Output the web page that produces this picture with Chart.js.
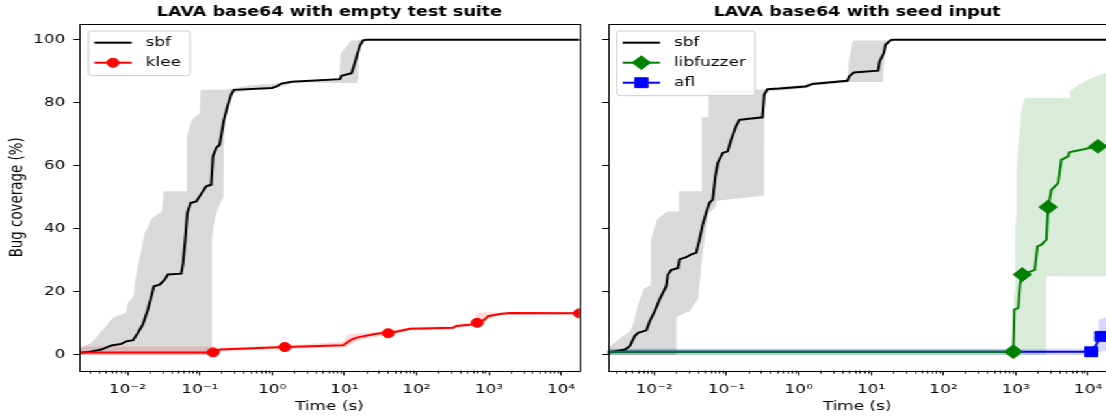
<!DOCTYPE html>
<html>
<head>
<meta charset="utf-8">
<script src="https://cdn.jsdelivr.net/npm/chart.js@4.4.1/dist/chart.umd.min.js"></script>
<style>
  html, body { margin: 0; padding: 0; background: #fff; overflow: hidden; }
  /* the reference figure is stretched sideways, so the whole stage is too */
  #stage { position: absolute; left: 0; top: 0; width: 851px; height: 416px; transform: scaleX(1.3); transform-origin: 0 0; }
  #left { position: absolute; left: 0; top: 0; }
  #right { position: absolute; left: 458px; top: 0; }
</style>
</head>
<body>
<div id="stage">
  <canvas id="left" width="458" height="416"></canvas>
  <canvas id="right" width="400" height="416"></canvas>
</div>
<script>
// ---- axes ----
const xTickValues = [1e-2, 1e-1, 1, 10, 100, 1000, 10000];
const yTickValues = [0, 20, 40, 60, 80, 100];
const xMinEmpty = 0.00215;
const xMinSeed = 0.00228;
const xMax = 18000;

// ---- left panel: empty test suite ----
const emptySbfT = [0.00215, 0.00283, 0.00433, 0.00596, 0.00818, 0.0096, 0.0119, 0.0139, 0.0163, 0.0191, 0.0232, 0.0278, 0.0326, 0.0362, 0.0553, 0.0583, 0.0628, 0.067, 0.0745, 0.0891, 0.1045, 0.1227, 0.1438, 0.1517, 0.1686, 0.188, 0.2155, 0.245, 0.272, 0.296, 1.0, 1.153, 1.35, 1.86, 8.67, 9.14, 12.6, 13.5, 14.8, 16.4, 18.2, 20.3, 18000];
const emptySbfV = [0.7, 0.9, 1.7, 3.0, 3.5, 4.3, 4.7, 7.0, 9.7, 14.4, 21.8, 22.3, 23.9, 25.5, 25.8, 28.7, 36.6, 45.0, 48.2, 48.7, 51.1, 53.5, 54.0, 63.0, 65.7, 66.7, 74.6, 79.4, 82.6, 84.1, 84.7, 85.2, 86.1, 86.7, 87.5, 88.6, 89.4, 91.5, 94.7, 98.1, 99.8, 100, 100];
const emptySbfBandT = [0.00215, 0.00322, 0.00626, 0.0095, 0.0101, 0.0121, 0.013, 0.0145, 0.0173, 0.0195, 0.0207, 0.0297, 0.0316, 0.0649, 0.066, 0.0777, 0.0994, 0.103, 0.147, 0.147, 0.155, 0.17, 0.2, 0.212, 0.214, 0.228, 0.256, 0.28, 0.5, 1.0, 1.5, 2.0, 8.5, 8.85, 12.4, 15.0, 15.5, 16.1, 18.2, 20.3, 18000];
const emptySbfBandLo = [0, 0, 0, 0, 0, 0, 0, 0, 0, 0, 0, 0, 0, 0, 0, 0, 0, 0, 0, 36, 41, 45, 49, 50, 66, 76, 80, 83, 84.0, 84.5, 85.3, 86.4, 86.3, 86.3, 86.3, 86.3, 88, 97, 99.7, 100, 100];
const emptySbfBandHi = [2.0, 4.0, 11.8, 13.4, 16.5, 18.6, 25.0, 30.3, 38.7, 40.8, 42.9, 45.6, 51.9, 51.9, 69.3, 74.6, 76.7, 84.1, 84.1, 84.1, 84.1, 84.1, 84.1, 84.1, 84.1, 84.2, 84.3, 84.5, 85.6, 86.0, 86.6, 86.9, 87.8, 95.6, 99.8, 99.8, 100, 100, 100, 100, 100];

const emptyKleeT = [0.00215, 0.153, 0.19, 1.5, 9.6, 12.6, 14.8, 22.5, 31, 40.4, 58.6, 80.6, 320, 356, 545, 687, 850, 975, 1416, 1946, 18000];
const emptyKleeV = [0.8, 0.8, 1.7, 2.5, 3.1, 4.9, 5.5, 6.3, 6.9, 6.9, 7.6, 8.3, 8.6, 9.2, 9.6, 10.2, 11.0, 12.3, 13.0, 13.3, 13.2];
const emptyKleeMarks = [0.153, 1.5, 40.4, 687, 18000];
const emptyKleeBandT = [0.00215, 0.153, 0.16, 0.19, 1.5, 9.6, 11.0, 15, 22.5, 40.4, 58.6, 80.6, 320, 356, 650, 680, 850, 975, 1416, 18000];
const emptyKleeBandLo = [0, 0, 0.3, 1.1, 1.9, 2.4, 2.7, 4.3, 5.5, 6.3, 7.0, 7.8, 8.1, 8.7, 9.0, 9.0, 9.5, 11.5, 12.6, 12.9];
const emptyKleeBandHi = [2.7, 2.7, 2.0, 2.3, 3.1, 4.2, 6.5, 6.8, 7.2, 7.6, 8.2, 8.8, 9.1, 9.8, 10.5, 13.4, 13.5, 13.5, 13.5, 13.5];

// ---- right panel: seed input ----
const seedSbfT = [0.00228, 0.00393, 0.0046, 0.00539, 0.00598, 0.00782, 0.00868, 0.0102, 0.0119, 0.0132, 0.0147, 0.0155, 0.0172, 0.0213, 0.0224, 0.0278, 0.0325, 0.0381, 0.0424, 0.047, 0.0523, 0.0581, 0.0646, 0.0703, 0.0757, 0.0887, 0.104, 0.1157, 0.1355, 0.1506, 0.167, 0.315, 0.333, 0.37, 0.536, 1.25, 1.54, 4.67, 5.0, 5.78, 12.5, 13.1, 15.0, 15.8, 18.5, 20, 18000];
const seedSbfV = [0.7, 1.7, 2.8, 6.0, 7.0, 7.8, 10.7, 13.9, 17.6, 19.7, 21.8, 25.5, 26.9, 27.6, 30.3, 31.0, 31.9, 32.4, 36.6, 41.4, 45.1, 48.2, 49.3, 56.7, 60.9, 64.1, 64.6, 68.3, 72.5, 74.6, 74.7, 75.4, 82.6, 84.3, 84.5, 85.2, 86.0, 87.0, 88.4, 89.6, 90.2, 93.1, 95.8, 98.4, 99.8, 100, 100];
const seedSbfBandT = [0.00228, 0.0046, 0.0051, 0.006, 0.0071, 0.0088, 0.009, 0.0109, 0.0149, 0.0204, 0.0204, 0.022, 0.022, 0.0307, 0.0409, 0.0434, 0.0456, 0.0456, 0.0562, 0.0566, 0.0566, 0.0703, 0.074, 0.3165, 0.33, 0.335, 0.37, 0.536, 1.25, 1.54, 4.67, 4.9, 5.6, 14.5, 15.8, 18.5, 20, 18000];
const seedSbfBandLo = [0, 0, 0, 0, 0, 0, 0, 0, 0, 0, 11.7, 12.5, 12.5, 13.8, 18, 24.4, 30, 30, 44.6, 44.8, 44.8, 46.8, 48.9, 50.5, 50.5, 82.5, 83.8, 83.8, 84.6, 85.5, 86.4, 86.6, 86.6, 86.6, 98.4, 99.8, 100, 100];
const seedSbfBandHi = [2.3, 7.5, 9.6, 16, 21, 22, 36.5, 42.9, 45.5, 45.5, 45.5, 45.5, 51.9, 51.9, 51.9, 51.9, 51.9, 75.4, 75.4, 75.4, 84, 84, 84, 84.2, 84.3, 84.4, 84.6, 85.0, 85.8, 86.4, 87.5, 93, 99.8, 99.8, 99.8, 100, 100, 100];

const seedLibT = [0.00228, 925, 955, 1082, 1143, 1230, 1837, 1995, 2265, 2655, 2806, 3113, 3846, 4276, 5284, 5495, 13680, 18000];
const seedLibV = [1.0, 1.0, 14.4, 14.9, 22.3, 25.5, 27.0, 34.4, 35.0, 36.6, 46.9, 52.4, 54.5, 61.9, 63.0, 64.3, 66.2, 66.4];
const seedLibMarks = [925, 1230, 2806, 13680];
const seedLibBandT = [0.00228, 925, 945, 975, 1020, 1026, 1200, 1340, 2655, 2655, 5500, 5600, 7260, 11070, 18000];
const seedLibBandLo = [0, 0, 0, 0, 0, 0, 0, 0, 0, 25, 25, 25, 25, 25, 25];
const seedLibBandHi = [2.0, 2.0, 20, 40, 44, 60, 78, 81.5, 81.5, 81.5, 81.5, 83.6, 85.7, 87.8, 89.5];

const seedAflT = [0.00228, 11070, 12970, 15200, 18000];
const seedAflV = [1.0, 1.0, 3.3, 5.9, 6.3];
const seedAflMarks = [11070, 15200];
const seedAflBandT = [0.00228, 11070, 13900, 14100, 18000];
const seedAflBandLo = [0, 0, 0.8, 1.0, 1.2];
const seedAflBandHi = [2.0, 2.0, 3.5, 11.2, 12.0];

// ---- helpers ----
const FONT = '"DejaVu Sans", sans-serif';
Chart.defaults.font.family = FONT;
Chart.defaults.font.size = 13;
Chart.defaults.color = "#000";

const SUP = { "-": "\u207B", "0": "\u2070", "1": "\u00B9", "2": "\u00B2", "3": "\u00B3", "4": "\u2074", "5": "\u2075" };
function powLabel(v) {
  const e = Math.round(Math.log10(v));
  return "10" + String(e).split("").map((c) => SUP[c]).join("");
}

function pts(ts, vs) {
  return ts.map((t, i) => ({ x: t, y: vs[i] }));
}

function lineSet(label, ts, vs, color, marks, style, radius, order) {
  return {
    label: label,
    data: pts(ts, vs),
    inLegend: true,
    markStyle: marks ? style : null,
    markRadius: radius,
    borderColor: color,
    backgroundColor: color,
    borderWidth: 2,
    pointStyle: style || "circle",
    pointRadius: (c) => (marks && marks.includes(c.raw.x) ? radius : 0),
    pointBackgroundColor: color,
    pointBorderColor: color,
    pointBorderWidth: 1,
    tension: 0,
    fill: false,
    clip: 0,
    order: order,
  };
}

// lower and upper edge of a shaded band, filled between each other
function bandSets(ts, lo, hi, color, order) {
  return [
    { label: "_lo", data: pts(ts, lo), borderWidth: 0, pointRadius: 0, fill: false, order: order },
    { label: "_hi", data: pts(ts, hi), borderWidth: 0, pointRadius: 0, fill: "-1", backgroundColor: color, order: order },
  ];
}

function drawMarker(ctx, style, r, x, y) {
  ctx.beginPath();
  if (style === "circle") {
    ctx.arc(x, y, r, 0, Math.PI * 2);
  } else if (style === "rectRot") {
    ctx.moveTo(x - r, y); ctx.lineTo(x, y - r); ctx.lineTo(x + r, y); ctx.lineTo(x, y + r);
    ctx.closePath();
  } else {
    const s = r * Math.SQRT1_2;
    ctx.rect(x - s, y - s, 2 * s, 2 * s);
  }
  ctx.fill();
  ctx.stroke();
}

// box round the axes + minor ticks of the log axis
const framePlugin = {
  id: "frame",
  afterDatasetsDraw(chart) {
    const { ctx, chartArea: a } = chart;
    ctx.save();
    ctx.strokeStyle = "#000";
    ctx.lineWidth = 1;
    ctx.strokeRect(Math.round(a.left) + 0.5, Math.round(a.top) + 0.5, Math.round(a.right - a.left), Math.round(a.bottom - a.top));
    const xs = chart.scales.x;
    ctx.beginPath();
    for (let e = Math.floor(Math.log10(xs.min)); e <= Math.ceil(Math.log10(xs.max)); e++) {
      for (let m = 2; m <= 9; m++) {
        const v = m * Math.pow(10, e);
        if (v <= xs.min || v >= xs.max) continue;
        const px = Math.round(xs.getPixelForValue(v)) + 0.5;
        ctx.moveTo(px, a.bottom);
        ctx.lineTo(px, a.bottom + 2.8);
      }
    }
    ctx.stroke();
    ctx.restore();
  },
};

// matplotlib style legend in the upper left corner
const legendPlugin = {
  id: "mplLegend",
  afterDatasetsDraw(chart) {
    const { ctx, chartArea: a } = chart;
    const items = chart.data.datasets.filter((d) => d.inLegend);
    ctx.save();
    ctx.font = "13px " + FONT;
    const textW = Math.max(...items.map((d) => ctx.measureText(d.label).width));
    const x0 = a.left + 7;
    const y0 = a.top + 7;
    const w = 44 + textW + 7;
    const h = items.length * 20 + 4.7;
    ctx.beginPath();
    ctx.roundRect(x0, y0, w, h, 2.6);
    ctx.fillStyle = "rgba(255,255,255,0.8)";
    ctx.fill();
    ctx.strokeStyle = "#cccccc";
    ctx.lineWidth = 1;
    ctx.stroke();
    items.forEach((d, i) => {
      const y = y0 + 11.7 + i * 20;
      const hx = x0 + 4.5;
      ctx.strokeStyle = d.borderColor;
      ctx.lineWidth = 2;
      ctx.beginPath();
      ctx.moveTo(hx, y);
      ctx.lineTo(hx + 28.8, y);
      ctx.stroke();
      if (d.markStyle) {
        ctx.fillStyle = d.borderColor;
        ctx.lineWidth = 1;
        drawMarker(ctx, d.markStyle, d.markRadius, hx + 14.4, y);
      }
      ctx.fillStyle = "#000";
      ctx.textBaseline = "middle";
      ctx.textAlign = "left";
      ctx.fillText(d.label, x0 + 44, y);
    });
    ctx.restore();
  },
};

function makeChart(id, title, datasets, xMin, yWidth, padRight, showY) {
  return new Chart(document.getElementById(id), {
    type: "line",
    data: { datasets: datasets },
    options: {
      responsive: false,
      animation: false,
      events: [],
      layout: { padding: { left: 0, right: padRight, top: 0, bottom: 0 } },
      plugins: {
        legend: { display: false },
        tooltip: { enabled: false },
        filler: { drawTime: "beforeDatasetsDraw" },
        title: {
          display: true,
          text: title,
          fullSize: false,
          color: "#000",
          font: { size: 13.5, weight: "bold" },
          padding: { top: 3.9, bottom: 3.9 },
        },
      },
      scales: {
        x: {
          type: "logarithmic",
          min: xMin,
          max: xMax,
          bounds: "data",
          afterBuildTicks: (s) => { s.ticks = xTickValues.map((v) => ({ value: v, major: true })); },
          afterFit: (s) => { s.height = 45.3; },
          grid: { drawOnChartArea: false, drawTicks: true, tickLength: 4.7, tickWidth: 1, tickColor: "#000" },
          border: { display: false },
          ticks: { autoSkip: false, maxRotation: 0, padding: 6, color: "#000", callback: (v) => powLabel(v) },
          title: { display: true, text: "Time (s)", color: "#000", padding: { top: 0, bottom: 1.2 } },
        },
        y: {
          min: -5,
          max: 105,
          afterBuildTicks: (s) => { s.ticks = yTickValues.map((v) => ({ value: v })); },
          afterFit: (s) => { s.width = yWidth; },
          grid: { drawOnChartArea: false, drawTicks: true, tickLength: 4.5, tickWidth: 1, tickColor: "#000" },
          border: { display: false },
          ticks: { display: showY, padding: 6.3, color: "#000" },
          title: { display: showY, text: "Bug coverage (%)", color: "#000", font: { size: 13.4 }, padding: { top: 5, bottom: 0 } },
        },
      },
    },
    plugins: [framePlugin, legendPlugin],
  });
}

makeChart("left", "LAVA base64 with empty test suite", [
  lineSet("sbf", emptySbfT, emptySbfV, "#000000", null, null, 0, 1),
  lineSet("klee", emptyKleeT, emptyKleeV, "#ff0000", emptyKleeMarks, "circle", 4.5, 0),
  ...bandSets(emptySbfBandT, emptySbfBandLo, emptySbfBandHi, "rgba(0,0,0,0.15)", 5),
  ...bandSets(emptyKleeBandT, emptyKleeBandLo, emptyKleeBandHi, "rgba(255,0,0,0.15)", 6),
], xMinEmpty, 61, 12.2, true);

makeChart("right", "LAVA base64 with seed input", [
  lineSet("sbf", seedSbfT, seedSbfV, "#000000", null, null, 0, 2),
  lineSet("libfuzzer", seedLibT, seedLibV, "#008000", seedLibMarks, "rectRot", 7, 0),
  lineSet("afl", seedAflT, seedAflV, "#0000ff", seedAflMarks, "rect", 7, 1),
  ...bandSets(seedSbfBandT, seedSbfBandLo, seedSbfBandHi, "rgba(0,0,0,0.15)", 5),
  ...bandSets(seedLibBandT, seedLibBandLo, seedLibBandHi, "rgba(0,128,0,0.15)", 6),
  ...bandSets(seedAflBandT, seedAflBandLo, seedAflBandHi, "rgba(0,0,255,0.15)", 7),
], xMinSeed, 9.5, 6.8, false);
</script>
</body>
</html>
